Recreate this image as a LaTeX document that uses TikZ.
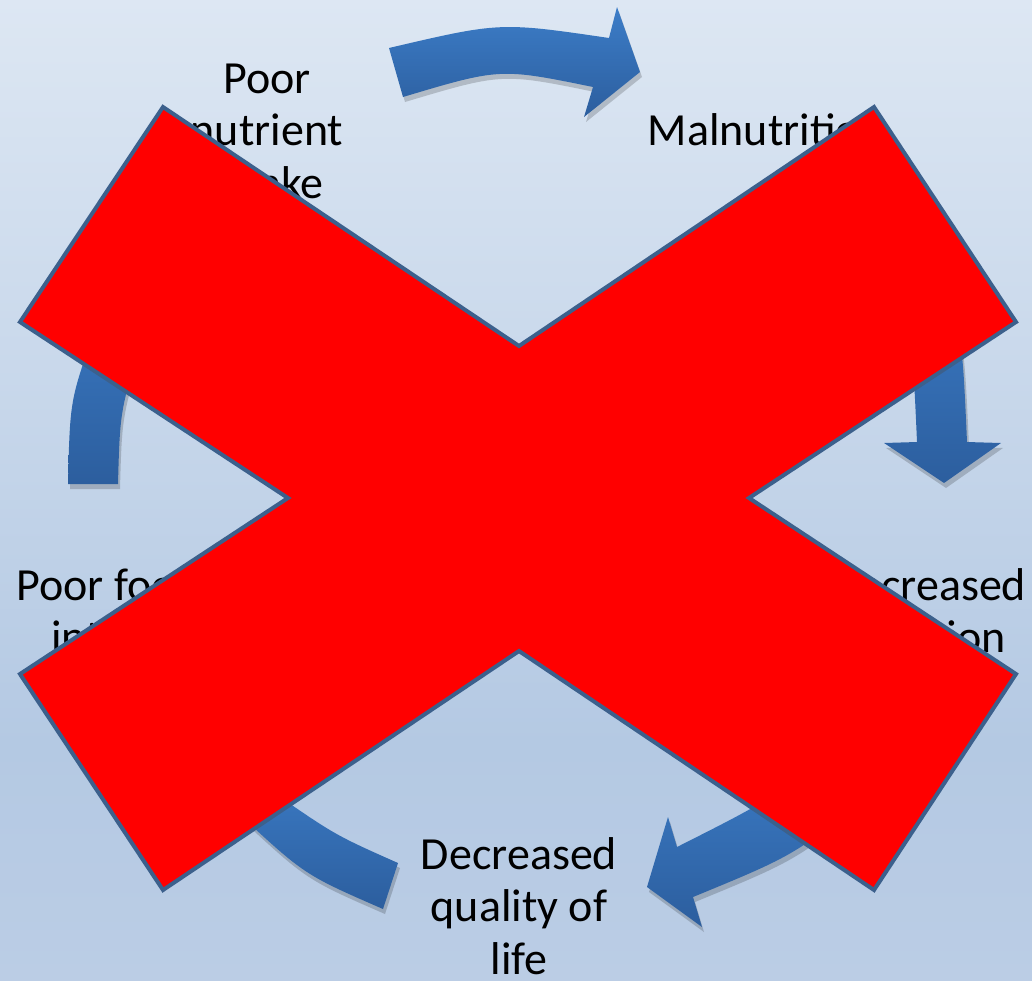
\documentclass[tikz,border=0pt]{standalone}
\usepackage{fontspec}
\setmainfont{Carlito}
\definecolor{bgtop}{RGB}{221,231,243}
\definecolor{bgmid}{RGB}{180,201,227}
\definecolor{bgbot}{RGB}{187,205,229}
\definecolor{arrtop}{RGB}{60,125,200}
\definecolor{arrbot}{RGB}{44,94,158}
\definecolor{xedge}{RGB}{60,96,140}
\definecolor{xred}{RGB}{255,0,0}
\pgfdeclareverticalshading{bgshade}{100bp}{color(0bp)=(bgbot); color(25bp)=(bgbot); color(37bp)=(bgmid); color(75bp)=(bgtop); color(100bp)=(bgtop)}
\tikzset{
  lbl/.style={font=\fontsize{46}{52.5}\selectfont, align=flush center, text width=300pt, inner sep=0pt, anchor=base, text=black},
  cyclearrow/.style={top color=arrtop, bottom color=arrbot, draw=none},
  arrshadow/.style={fill=black, opacity=0.18, draw=none},
  bigx/.style={fill=xred, draw=xedge, line width=4pt, line join=miter}
}
\def\arrA{(389,48) .. controls (500,22) .. (609,38) -- (617,7) -- (640,72) -- (584,117) -- (593,87) .. controls (500,68) .. (403,97) -- cycle}
\def\arrB{(885,270) .. controls (912,330) .. (917,442) -- (884,443) -- (944,483) -- (1001,443) -- (967,442) .. controls (962,330) .. (935,262) -- cycle}
\def\arrC{(840,745) .. controls (770,800) .. (677,847) -- (668,817) -- (647,887) -- (702,927) -- (693,897) .. controls (795,855) .. (875,790) -- cycle}
\def\arrD{(398,863) .. controls (335,835) .. (270,790) -- (285,765) -- (195,760) -- (225,835) -- (240,815) .. controls (305,875) .. (383,909) -- cycle}
\def\arrE{(68,484) .. controls (70,400) .. (95,330) -- (70,335) -- (130,265) -- (175,345) -- (145,330) .. controls (120,410) .. (118,484) -- cycle}
\begin{document}
\begin{tikzpicture}[x=1pt,y=-1pt]
\useasboundingbox (0,0) rectangle (1032,980);
\shade[shading=bgshade] (0,0) rectangle (1032,980);
% shadows
\foreach \a in {\arrA,\arrB,\arrC,\arrD,\arrE}{
  \fill[arrshadow, shift={(2,5)}] \a;
}
% arrows
\shade[cyclearrow] \arrA;
\shade[cyclearrow] \arrB;
\shade[cyclearrow] \arrC;
\shade[cyclearrow] \arrD;
\shade[cyclearrow] \arrE;
% labels
\node[lbl] (pni) at (267,93) {Poor\\nutrient\\intake};
\node[lbl] (mal) at (766,145) {Malnutrition};
\node[lbl] (dfn) at (928,600) {Decreased\\function};
\node[lbl] (dql) at (519,869) {Decreased\\quality of\\life};
\node[lbl] (pfi) at (108,600) {Poor food\\intake};
% big red X
\draw[bigx] (163,107) -- (519,346) -- (874,107) -- (1016,322) -- (749,498) -- (1016,674) -- (874,890) -- (519,651) -- (163,890) -- (20,674) -- (288,498) -- (20,322) -- cycle;
\end{tikzpicture}
\end{document}
